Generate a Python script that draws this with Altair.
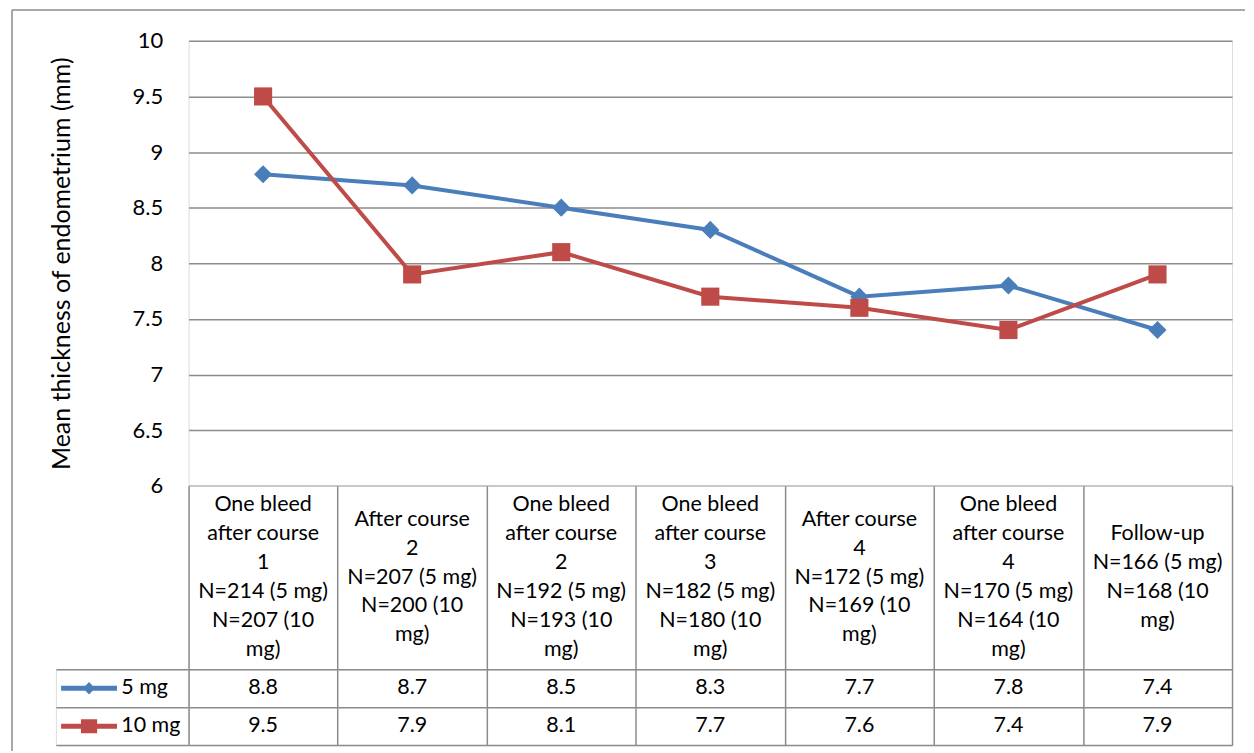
import altair as alt
import pandas as pd

keys = ["c1", "c2", "c3", "c4", "c5", "c6", "c7"]
cat_labels = [
    "One bleed\nafter course\n1\nN=214 (5 mg)\nN=207 (10\nmg)",
    "After course\n2\nN=207 (5 mg)\nN=200 (10\nmg)",
    "One bleed\nafter course\n2\nN=192 (5 mg)\nN=193 (10\nmg)",
    "One bleed\nafter course\n3\nN=182 (5 mg)\nN=180 (10\nmg)",
    "After course\n4\nN=172 (5 mg)\nN=169 (10\nmg)",
    "One bleed\nafter course\n4\nN=170 (5 mg)\nN=164 (10\nmg)",
    "Follow-up\nN=166 (5 mg)\nN=168 (10\nmg)",
]
series_names = ["5 mg", "10 mg"]
values_5mg = [8.8, 8.7, 8.5, 8.3, 7.7, 7.8, 7.4]
values_10mg = [9.5, 7.9, 8.1, 7.7, 7.6, 7.4, 7.9]
y_ticks = [6, 6.5, 7, 7.5, 8, 8.5, 9, 9.5, 10]

colors = ["#4A7EBB", "#BE4B48"]
FONT = "Lato"
GRID = "#8C8C8C"
TXT = 21.5

rows = []
for name, vals in zip(series_names, [values_5mg, values_10mg]):
    for k, v in zip(keys, vals):
        rows.append({"key": k, "series": name, "value": v})
df = pd.DataFrame(rows)
cat_df = pd.DataFrame({"key": keys, "label": cat_labels})

xscale = alt.Scale(type="band", domain=keys, paddingInner=0, paddingOuter=0)
color = alt.Color("series:N", scale=alt.Scale(domain=series_names, range=colors), legend=None)

W = 1046
LW = 133

# --- main plot ---
y_enc = alt.Y(
    "value:Q",
    scale=alt.Scale(domain=[6, 10], nice=False, zero=False),
    axis=alt.Axis(
        values=y_ticks, format="~g", title="Mean thickness of endometrium (mm)",
        grid=True, gridColor=GRID, gridWidth=1.5, ticks=False, domain=False,
        labelFontSize=22, labelPadding=26, labelColor="black", labelFont=FONT,
        titleFontSize=25, titleFont=FONT, titleFontWeight="normal", titleColor="black",
        titlePadding=58,
    ),
)
x_enc = alt.X("key:N", scale=xscale, axis=None)
lines = alt.Chart(df).mark_line(strokeWidth=4).encode(
    x=x_enc, y=y_enc, color=color, detail="series:N",
)
pts = alt.Chart(df).mark_point(filled=True, opacity=1, size=330).encode(
    x=x_enc, y=y_enc, color=color,
    shape=alt.Shape("series:N", scale=alt.Scale(domain=series_names, range=["diamond", "square"]), legend=None),
)
plot = alt.layer(lines, pts).properties(width=W, height=446)

# --- category label row ---
grid_x = alt.Axis(tickBand="extent", grid=True, gridColor=GRID, gridWidth=1.5,
                  labels=False, ticks=False, domain=False, title=None)
labels_panel = alt.Chart(cat_df).mark_text(
    lineBreak="\n", lineHeight=29, fontSize=TXT, font=FONT, color="black",
    align="center", baseline="middle",
    dy=alt.ExprRef(expr="-(length(split(datum.label, '\\n')) - 1) * 14.5"),
).encode(
    x=alt.X("key:N", scale=xscale, axis=grid_x),
    text="label:N",
).properties(width=W, height=184)

# --- data table ---
rowscale = alt.Scale(type="band", domain=series_names, paddingInner=0, paddingOuter=0)
grid_y = alt.Axis(tickBand="extent", grid=True, gridColor=GRID, gridWidth=1.5,
                  labels=False, ticks=False, domain=False, title=None)
table = alt.Chart(df).mark_text(fontSize=TXT, font=FONT, color="black", align="center", baseline="middle").encode(
    x=alt.X("key:N", scale=xscale, axis=grid_x),
    y=alt.Y("series:N", scale=rowscale, axis=grid_y),
    text=alt.Text("value:Q", format=".1f"),
).properties(width=W, height=76)

# --- legend column ---
leg_df = pd.DataFrame({"series": series_names, "sym": ["sym", "sym"], "lab": ["lab", "lab"]})
colscale = alt.Scale(type="band", domain=["sym", "lab"], paddingInner=0, paddingOuter=0)
path_diamond = ("M-1,-0.09L-0.13,-0.09L0,-0.22L0.13,-0.09L1,-0.09L1,0.09L0.13,0.09"
                "L0,0.22L-0.13,0.09L-1,0.09Z")
path_square = ("M-1,-0.09L-0.29,-0.09L-0.29,-0.25L0.29,-0.25L0.29,-0.09L1,-0.09L1,0.09"
               "L0.29,0.09L0.29,0.25L-0.29,0.25L-0.29,0.09L-1,0.09Z")
leg_sym = alt.Chart(leg_df).mark_point(filled=True, opacity=1, size=3136).encode(
    x=alt.X("sym:N", scale=colscale, axis=None),
    y=alt.Y("series:N", scale=rowscale, axis=grid_y),
    color=color,
    shape=alt.Shape("series:N", scale=alt.Scale(domain=series_names, range=[path_diamond, path_square]), legend=None),
)
leg_txt = alt.Chart(leg_df).mark_text(fontSize=TXT, font=FONT, color="black", align="left", baseline="middle", dx=-1).encode(
    x=alt.X("lab:N", scale=colscale, axis=None, bandPosition=0),
    y=alt.Y("series:N", scale=rowscale, axis=grid_y),
    text="series:N",
)
legend_panel = alt.layer(leg_sym, leg_txt).properties(width=LW, height=76)

# --- empty left cells; the first one also carries the chart-area frame ---
frame_df = pd.DataFrame({"a": [0]})
frame_top = alt.Chart(frame_df).mark_rule(color=GRID, strokeWidth=1.5, clip=False).encode(
    x=alt.value(-44), x2=alt.value(1192), y=alt.value(-31)
)
frame_left = alt.Chart(frame_df).mark_rule(color=GRID, strokeWidth=1.5, clip=False).encode(
    x=alt.value(-44), y=alt.value(-31), y2=alt.value(712)
)
spacer_a = alt.layer(frame_top, frame_left).properties(
    width=LW, height=446, view=alt.ViewConfig(stroke=None))
spacer_b = alt.Chart(pd.DataFrame({"a": [""]})).mark_text().encode(
    text="a:N"
).properties(width=LW, height=184, view=alt.ViewConfig(stroke=None))

chart = alt.concat(
    spacer_a, plot, spacer_b, labels_panel, legend_panel, table,
    columns=2, spacing=0, bounds="flush",
).resolve_scale(
    shape="independent"
).properties(
    padding={"left": 3, "top": 0, "right": 0, "bottom": 0}
).configure_view(stroke=GRID, strokeWidth=1.5).configure(background="white")

chart.save("out.html", embed_options={"renderer": "svg", "actions": False})
